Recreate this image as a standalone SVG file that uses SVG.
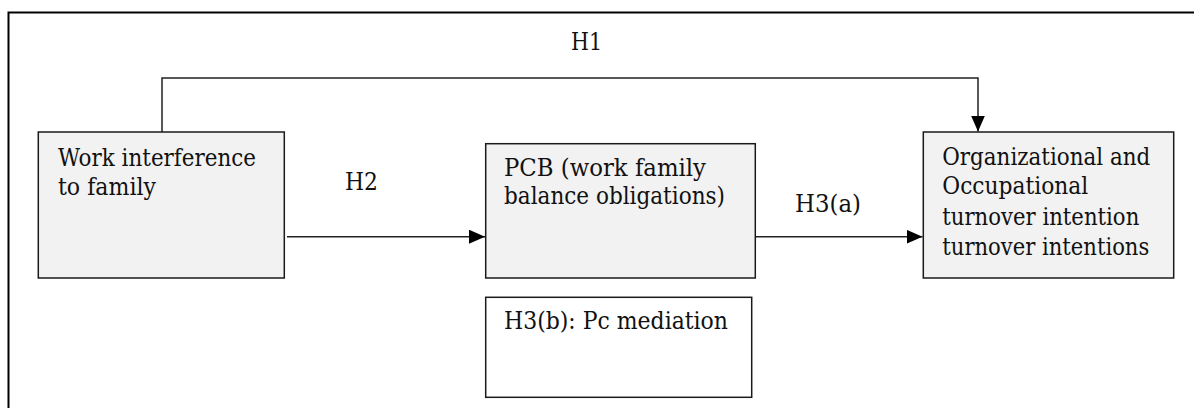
<svg xmlns="http://www.w3.org/2000/svg" width="1194" height="408" viewBox="0 0 1194 408">
<style>
.frame{fill:none;stroke:#000;stroke-width:2}
.box{fill:#f2f2f2;stroke:#1a1a1a;stroke-width:1.5}
.wbox{fill:#fff;stroke:#1a1a1a;stroke-width:1.5}
.line{fill:none;stroke:#222;stroke-width:1.5}
.t{font-family:'DejaVu Serif','Liberation Serif',serif;font-size:25px;fill:#111}
</style>
<defs>
<marker id="arrH" markerWidth="16" markerHeight="14" refX="16" refY="7" orient="auto" markerUnits="userSpaceOnUse" viewBox="0 0 16 14">
<path d="M0,0 L16,7 L0,14 z" fill="#000"/>
</marker>
</defs>
<rect width="1194" height="408" fill="#fff"/>
<path class="frame" d="M8.5,410 V12.5 H1196"/>
<g id="connectors">
<path class="line" d="M162,132 V78 H978 V131.5" marker-end="url(#arrH)"/>
<path class="line" d="M287,236.7 H485" marker-end="url(#arrH)"/>
<path class="line" d="M755.3,236.7 H922.5" marker-end="url(#arrH)"/>
<text class="t" x="571" y="50" textLength="31" lengthAdjust="spacingAndGlyphs">H1</text>
<text class="t" x="345" y="190" textLength="33" lengthAdjust="spacingAndGlyphs">H2</text>
<text class="t" x="795" y="212" textLength="66" lengthAdjust="spacingAndGlyphs">H3(a)</text>
</g>
<g id="node-wif">
<rect class="box" x="38.3" y="132" width="246" height="146"/>
<text class="t" x="58" y="165.7" textLength="198" lengthAdjust="spacingAndGlyphs">Work interference</text>
<text class="t" x="58" y="195" textLength="98" lengthAdjust="spacingAndGlyphs">to family</text>
</g>
<g id="node-pcb">
<rect class="box" x="485.7" y="143.7" width="269.6" height="134.3"/>
<text class="t" x="504" y="175.7" textLength="202" lengthAdjust="spacingAndGlyphs">PCB (work family</text>
<text class="t" x="504" y="204" textLength="221" lengthAdjust="spacingAndGlyphs">balance obligations)</text>
</g>
<g id="node-h3b">
<rect class="wbox" x="485.7" y="297.3" width="266" height="100"/>
<text class="t" x="504" y="329" textLength="224" lengthAdjust="spacingAndGlyphs">H3(b): Pc mediation</text>
</g>
<g id="node-turnover">
<rect class="box" x="923.3" y="132" width="250.4" height="146"/>
<text class="t" x="942.3" y="164.7" textLength="208" lengthAdjust="spacingAndGlyphs">Organizational and</text>
<text class="t" x="942.3" y="194" textLength="146" lengthAdjust="spacingAndGlyphs">Occupational</text>
<text class="t" x="942.3" y="224.7" textLength="197" lengthAdjust="spacingAndGlyphs">turnover intention</text>
<text class="t" x="942.3" y="255" textLength="207" lengthAdjust="spacingAndGlyphs">turnover intentions</text>
</g>
</svg>
